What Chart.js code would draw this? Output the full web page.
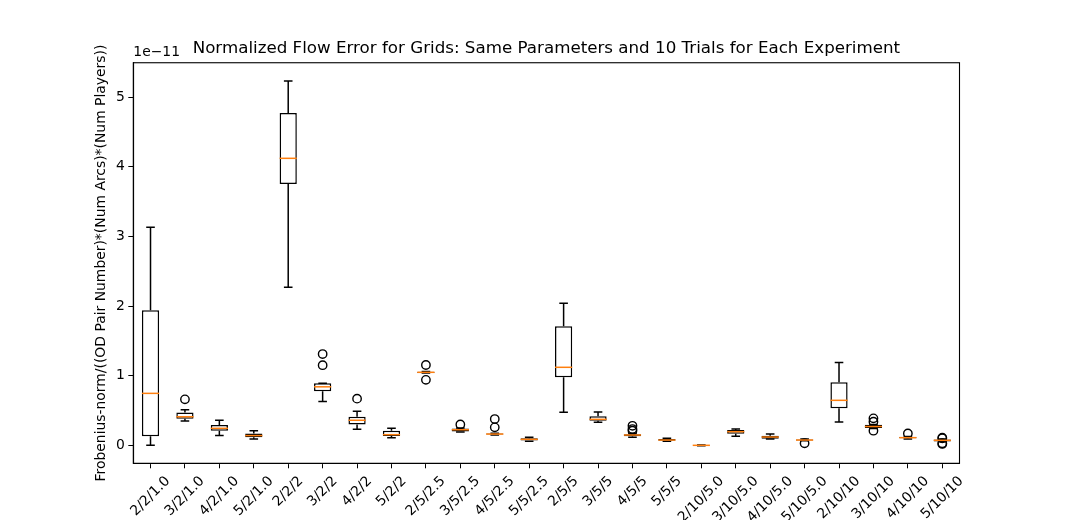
<!DOCTYPE html>
<html>
<head>
<meta charset="utf-8">
<script src="https://cdn.jsdelivr.net/npm/chart.js@4/dist/chart.umd.min.js"></script>
<style>
  html, body { margin: 0; padding: 0; background: #fff; }
  #wrap { width: 1067px; height: 520px; }
</style>
</head>
<body>
<div id="wrap"><canvas id="myChart" width="1067" height="520"></canvas></div>
<script>
// values are in units of 1e-11
const categories = ['2/2/1.0', '3/2/1.0', '4/2/1.0', '5/2/1.0', '2/2/2', '3/2/2', '4/2/2', '5/2/2',
  '2/5/2.5', '3/5/2.5', '4/5/2.5', '5/5/2.5', '2/5/5', '3/5/5', '4/5/5', '5/5/5',
  '2/10/5.0', '3/10/5.0', '4/10/5.0', '5/10/5.0', '2/10/10', '3/10/10', '4/10/10', '5/10/10'];
const whiskLo = [0.00, 0.35, 0.14, 0.09, 2.27, 0.63, 0.23, 0.11,
  1.04, 0.19, 0.15, 0.057, 0.474, 0.33, 0.115, 0.057,
  -0.005, 0.13, 0.09, 0.065, 0.334, 0.24, 0.09, 0.05];
const q1 = [0.13, 0.38, 0.21, 0.115, 3.75, 0.775, 0.30, 0.134,
  1.04, 0.20, 0.155, 0.07, 0.976, 0.353, 0.13, 0.066,
  -0.003, 0.167, 0.095, 0.068, 0.531, 0.248, 0.10, 0.055];
const medians = [0.746, 0.41, 0.244, 0.14, 4.12, 0.84, 0.36, 0.153,
  1.048, 0.224, 0.162, 0.086, 1.12, 0.373, 0.148, 0.076,
  0.0, 0.196, 0.119, 0.076, 0.646, 0.27, 0.11, 0.072];
const q3 = [1.94, 0.47, 0.29, 0.17, 4.77, 0.89, 0.41, 0.21,
  1.055, 0.24, 0.17, 0.10, 1.71, 0.416, 0.16, 0.09,
  0.002, 0.22, 0.138, 0.085, 0.904, 0.296, 0.12, 0.085];
const whiskHi = [3.13, 0.51, 0.36, 0.21, 5.23, 0.89, 0.49, 0.244,
  1.06, 0.25, 0.175, 0.115, 2.04, 0.478, 0.17, 0.10,
  0.004, 0.234, 0.162, 0.09, 1.19, 0.30, 0.125, 0.09];
const outliers = [[], [0.66], [], [], [], [1.31, 1.15], [0.67], [],
  [1.153, 0.94], [0.30], [0.377, 0.258], [], [], [], [0.28, 0.234, 0.21], [],
  [], [], [], [0.03], [], [0.387, 0.34, 0.21], [0.17], [0.11, 0.10, 0.03, 0.02]];
const yTicks = [0, 1, 2, 3, 4, 5];

const FONT = "'DejaVu Sans', sans-serif";
Chart.defaults.font.family = FONT;
Chart.defaults.font.size = 13.9;
Chart.defaults.color = '#000';

const outlierPoints = [];
categories.forEach((c, i) => outliers[i].forEach(v => outlierPoints.push({ x: c, y: v })));

const boxPlot = {
  id: 'boxPlot',
  afterDatasetsDraw(chart) {
    const { ctx, scales: { x, y } } = chart;
    const step = x.getPixelForValue(1) - x.getPixelForValue(0);
    const half = step * 0.25, capHalf = step * 0.125;
    ctx.save();
    ctx.lineWidth = 1.5;
    categories.forEach((c, i) => {
      const px = x.getPixelForValue(i);
      ctx.strokeStyle = '#000';
      ctx.beginPath();
      ctx.moveTo(px, y.getPixelForValue(q3[i])); ctx.lineTo(px, y.getPixelForValue(whiskHi[i]));
      ctx.moveTo(px, y.getPixelForValue(q1[i])); ctx.lineTo(px, y.getPixelForValue(whiskLo[i]));
      ctx.moveTo(px - capHalf, y.getPixelForValue(whiskHi[i])); ctx.lineTo(px + capHalf, y.getPixelForValue(whiskHi[i]));
      ctx.moveTo(px - capHalf, y.getPixelForValue(whiskLo[i])); ctx.lineTo(px + capHalf, y.getPixelForValue(whiskLo[i]));
      ctx.stroke();
      ctx.strokeStyle = '#ff7f0e';
      ctx.beginPath();
      ctx.moveTo(px - half, y.getPixelForValue(medians[i])); ctx.lineTo(px + half, y.getPixelForValue(medians[i]));
      ctx.stroke();
    });
    ctx.restore();
  },
  afterDraw(chart) {
    const { ctx, chartArea: a, scales: { x } } = chart;
    ctx.save();
    // frame
    ctx.strokeStyle = '#000';
    ctx.lineWidth = 1.1;
    ctx.strokeRect(a.left, a.top, a.right - a.left, a.bottom - a.top);
    // offset text
    ctx.fillStyle = '#000';
    ctx.font = '13.9px ' + FONT;
    ctx.textAlign = 'left';
    ctx.textBaseline = 'bottom';
    ctx.fillText('1e\u221211', a.left, a.top - 3);
    // rotated x labels, centred on the tick like matplotlib
    const h = 13.9 * 1.17;
    categories.forEach((c, i) => {
      const px = x.getPixelForValue(i);
      const w = ctx.measureText(c).width;
      const bb = (w + h) * Math.SQRT1_2;
      const cy = a.bottom + 5 + 4.9 + bb / 2;
      ctx.save();
      ctx.translate(px, cy);
      ctx.rotate(-Math.PI / 4);
      ctx.textAlign = 'center';
      ctx.textBaseline = 'middle';
      ctx.fillText(c, 0, 0);
      ctx.restore();
    });
    ctx.restore();
  }
};

new Chart(document.getElementById('myChart'), {
  type: 'bar',
  data: {
    labels: categories,
    datasets: [
      {
        label: 'box',
        data: categories.map((c, i) => [q1[i], q3[i]]),
        backgroundColor: '#fff',
        borderColor: '#000',
        borderWidth: 1.5,
        borderSkipped: false,
        barPercentage: 0.5,
        categoryPercentage: 1.0,
        order: 2
      },
      {
        type: 'line',
        label: 'outliers',
        data: outlierPoints,
        showLine: false,
        pointStyle: 'circle',
        pointRadius: 4.2,
        pointBorderWidth: 1.4,
        pointBorderColor: '#000',
        pointBackgroundColor: 'rgba(0,0,0,0)',
        order: 1
      }
    ]
  },
  options: {
    responsive: false,
    devicePixelRatio: 1,
    animation: false,
    layout: { padding: { left: 0, right: 107.5, top: 0, bottom: 0 } },
    plugins: {
      legend: { display: false },
      tooltip: { enabled: false },
      title: {
        display: true,
        fullSize: false,
        text: 'Normalized Flow Error for Grids: Same Parameters and 10 Trials for Each Experiment',
        color: '#000',
        font: { size: 16.7, weight: 'normal', family: FONT },
        padding: { top: 39, bottom: 3.7 }
      }
    },
    scales: {
      x: {
        offset: true,
        grid: { display: true, drawOnChartArea: false, drawTicks: true, tickLength: 5, color: '#000', offset: false },
        border: { display: true, color: '#000', width: 1.1 },
        ticks: { display: false },
        afterFit: s => { s.height = 56.7; }
      },
      y: {
        min: -0.258,
        max: 5.492,
        grid: { display: true, drawOnChartArea: false, drawTicks: true, tickLength: 5, color: '#000' },
        border: { display: true, color: '#000', width: 1.1 },
        ticks: { padding: 3.5, color: '#000', font: { size: 13.9 } },
        afterBuildTicks: s => { s.ticks = yTicks.map(v => ({ value: v })); },
        afterFit: s => { s.width = 133.3; },
        title: {
          display: true,
          text: 'Frobenius-norm/((OD Pair Number)*(Num Arcs)*(Num Players))',
          color: '#000',
          font: { size: 13.9 },
          padding: { top: 93, bottom: 0 }
        }
      }
    }
  },
  plugins: [boxPlot]
});
</script>
</body>
</html>
